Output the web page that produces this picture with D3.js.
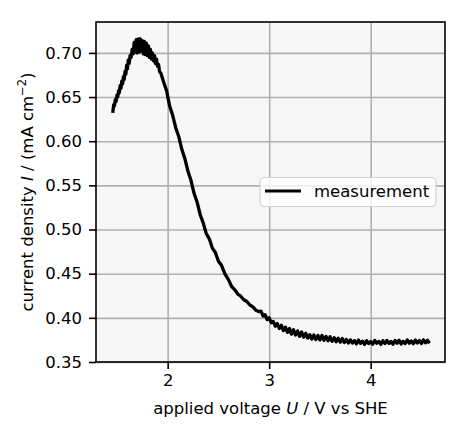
<!DOCTYPE html>
<html><head><meta charset="utf-8">
<script src="https://cdn.jsdelivr.net/npm/d3@7"></script>
<style>
body{margin:0;background:#fff}
text{font-family:"DejaVu Sans",sans-serif}
</style>
</head><body><svg id="c" width="468" height="435"></svg>
<script>
// ---- data ----
const voltage = [
1.461,1.468,1.476,1.484,1.492,1.500,1.508,1.516,1.524,1.532,1.540,1.548,1.556,1.564,1.572,1.580,1.588,1.596,1.604,1.612,1.620,
1.63,1.64,1.65,1.66,1.67,1.68,1.69,1.70,1.71,1.72,1.73,1.74,1.75,1.76,1.77,1.78,1.79,1.80,1.81,1.82,1.83,1.84,1.85,1.86,1.87,1.88,1.89,1.90,1.91,1.92,
1.935,1.96,1.99,2.02,2.05,2.08,2.11,2.14,2.17,2.20,2.23,2.26,2.29,2.32,2.35,2.38,2.41,2.44,2.47,2.50,2.53,2.565,2.60,2.63,2.66,2.69,2.72,2.75,2.78,2.81,2.84,2.87,2.90,
2.92,2.94,2.96,2.98,3.00,3.02,3.04,3.06,3.08,3.10,3.12,3.14,3.16,3.18,3.20,3.22,3.24,3.26,3.28,3.30,3.32,3.34,3.36,3.38,3.40,3.42,3.44,3.46,3.48,3.50,3.52,3.54,3.56,3.58,3.60,3.62,3.64,3.66,3.68,3.70,3.72,3.74,3.76,3.78,3.80,
3.82,3.84,3.86,3.88,3.90,3.92,3.94,3.96,3.98,4.00,4.02,4.04,4.06,4.08,4.10,4.12,4.14,4.16,4.18,4.20,4.22,4.24,4.26,4.28,4.30,4.32,4.34,4.36,4.38,4.40,4.42,4.44,4.46,4.48,4.50,4.52,4.54,4.56,4.57
];
const current = [
0.634,0.641,0.640,0.647,0.645,0.652,0.650,0.657,0.655,0.663,0.660,0.668,0.665,0.673,0.670,0.679,0.676,0.686,0.682,0.692,0.688,
0.697,0.695,0.704,0.699,0.712,0.701,0.715,0.700,0.716,0.701,0.716,0.702,0.714,0.699,0.713,0.698,0.711,0.697,0.708,0.695,0.704,0.693,0.700,0.691,0.697,0.688,0.693,0.685,0.687,0.679,
0.6765,0.6670,0.6570,0.6395,0.6290,0.6150,0.6050,0.5905,0.5800,0.5660,0.5555,0.5410,0.5310,0.5170,0.5075,0.4955,0.4895,0.4790,0.4740,0.4640,0.4595,0.4495,0.4430,0.4355,0.4320,0.4270,0.4245,0.4205,0.4185,0.4145,0.4125,0.4085,0.4070,
0.4075,0.4020,0.4035,0.3980,0.4000,0.3945,0.3960,0.3905,0.3935,0.3880,0.3915,0.3855,0.3895,0.3835,0.3880,0.3815,0.3865,0.3805,0.3850,0.3790,0.3840,0.3780,0.3825,0.3770,0.3810,0.3760,0.3805,0.3755,0.3800,0.3750,0.3800,0.3745,0.3790,0.3740,0.3785,0.3735,0.3775,0.3730,0.3770,0.3725,0.3765,0.3720,0.3755,0.3715,0.3750,
0.3715,0.3742,0.3706,0.3748,0.3712,0.3736,0.3700,0.3741,0.3709,0.3731,0.3702,0.3744,0.3713,0.3733,0.3699,0.3740,0.3708,0.3745,0.3710,0.3732,0.3701,0.3743,0.3712,0.3746,0.3704,0.3735,0.3709,0.3749,0.3713,0.3738,0.3706,0.3748,0.3716,0.3744,0.3709,0.3751,0.3717,0.3746,0.3728
];
const xTicks = [2, 3, 4];
const xTickLabels = ["2", "3", "4"];
const yTicks = [0.35, 0.40, 0.45, 0.50, 0.55, 0.60, 0.65, 0.70];
const yTickLabels = ["0.35", "0.40", "0.45", "0.50", "0.55", "0.60", "0.65", "0.70"];
const seriesName = "measurement";

// ---- layout ----
const L = 96, R = 445, T = 22, B = 362;
const FS = 16.5;
const svg = d3.select("#c");
const x = d3.scaleLinear().domain([1.294, 4.732]).range([L, R]);
const y = d3.scaleLinear().domain([0.35, 0.735]).range([B, T]);

svg.append("rect").attr("x", L).attr("y", T).attr("width", R - L).attr("height", B - T).attr("fill", "#f7f7f7");

// grid
const gx = svg.append("g").attr("transform", `translate(0,${B})`)
  .call(d3.axisBottom(x).tickValues(xTicks).tickSize(-(B - T)).tickFormat(""));
const gy = svg.append("g").attr("transform", `translate(${L},0)`)
  .call(d3.axisLeft(y).tickValues(yTicks).tickSize(-(R - L)).tickFormat(""));
[gx, gy].forEach(g => {
  g.select(".domain").remove();
  g.selectAll("line").attr("stroke", "#b0b0b0").attr("stroke-width", 1.6);
});

// line
svg.append("clipPath").attr("id", "clip").append("rect")
  .attr("x", L).attr("y", T).attr("width", R - L).attr("height", B - T);
const pts = voltage.map((v, i) => [v, current[i]]);
svg.append("path").datum(pts)
  .attr("clip-path", "url(#clip)")
  .attr("fill", "none").attr("stroke", "#000").attr("stroke-width", 3.3)
  .attr("stroke-linejoin", "round").attr("stroke-linecap", "square")
  .attr("d", d3.line().x(d => x(d[0])).y(d => y(d[1])));

// spines
svg.append("rect").attr("x", L).attr("y", T).attr("width", R - L).attr("height", B - T)
  .attr("fill", "none").attr("stroke", "#000").attr("stroke-width", 1.6);

// axes
const ax = svg.append("g").attr("transform", `translate(0,${B})`)
  .call(d3.axisBottom(x).tickValues(xTicks).tickFormat((d, i) => xTickLabels[i]).tickSize(7).tickPadding(5));
const ay = svg.append("g").attr("transform", `translate(${L},0)`)
  .call(d3.axisLeft(y).tickValues(yTicks).tickFormat((d, i) => yTickLabels[i]).tickSize(7).tickPadding(7));
[ax, ay].forEach(g => {
  g.select(".domain").remove();
  g.selectAll("line").attr("stroke", "#000").attr("stroke-width", 1.6);
  g.selectAll("text").attr("font-size", FS).attr("fill", "#000").attr("font-family", "DejaVu Sans");
});

// axis labels
const xl = svg.append("text").attr("x", (L + R) / 2).attr("y", 414)
  .attr("text-anchor", "middle").attr("font-size", FS).attr("fill", "#000");
xl.append("tspan").text("applied voltage ");
xl.append("tspan").attr("font-style", "italic").text("U");
xl.append("tspan").text(" / V vs SHE");

const yl = svg.append("text").attr("transform", `translate(33,${(T + B) / 2}) rotate(-90)`)
  .attr("text-anchor", "middle").attr("font-size", FS).attr("fill", "#000");
yl.append("tspan").text("current density ");
yl.append("tspan").attr("font-style", "italic").text("I");
yl.append("tspan").text(" / (mA cm");
yl.append("tspan").attr("font-size", 11.5).attr("dy", -7).text("\u22122");
yl.append("tspan").attr("dy", 7).text(")");

// legend
const lg = svg.append("g");
lg.append("rect").attr("x", 260).attr("y", 177.5).attr("width", 176).attr("height", 29).attr("rx", 4)
  .attr("fill", "#fff").attr("fill-opacity", 0.8).attr("stroke", "#d0d0d0").attr("stroke-width", 1.2);
lg.append("line").attr("x1", 265).attr("x2", 301).attr("y1", 191).attr("y2", 191)
  .attr("stroke", "#000").attr("stroke-width", 3);
lg.append("text").attr("x", 314).attr("y", 197).attr("font-size", FS).attr("fill", "#000").text(seriesName);
</script>
</body></html>
